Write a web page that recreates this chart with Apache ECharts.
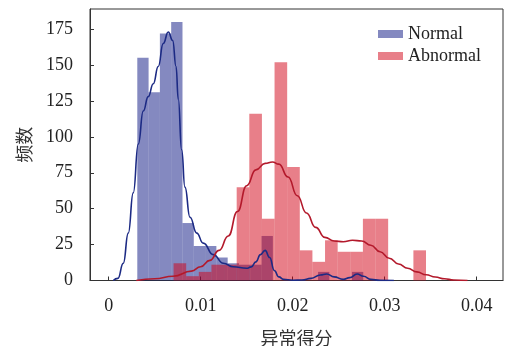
<!DOCTYPE html>
<html>
<head>
<meta charset="utf-8">
<script src="https://cdn.jsdelivr.net/npm/echarts@6/dist/echarts.min.js"></script>
<style>html,body{margin:0;padding:0;background:#fff;}#c{width:505px;height:346px;}</style>
</head>
<body>
<div id="c"></div>
<script>
// ---- data ----
const xTicks = [0, 0.01, 0.02, 0.03, 0.04];
const yTicks = [0, 25, 50, 75, 100, 125, 150, 175];

const normalBinStart = 0.00311;
const normalBinWidth = 0.001228;
const normalCounts = [155, 131, 172, 180, 40, 24, 24, 16, 12, 11, 11, 31, 0, 0, 0, 0, 6, 0, 0, 6];

const abnormalBinStart = 0.007053;
const abnormalBinWidth = 0.001372;
const abnormalCounts = [12, 3, 6, 11, 11, 65, 116, 43, 152, 79, 21, 13, 28, 20, 20, 43, 43, 0, 0, 21];

const normalKdeX = [0.0005, 0.0010, 0.00159, 0.00213, 0.00267, 0.00322, 0.00376, 0.00430, 0.00485, 0.00539, 0.00593, 0.00648, 0.00696, 0.00732, 0.00757, 0.00793, 0.00829, 0.00884, 0.00957, 0.01028, 0.01137, 0.01246, 0.01354, 0.0150, 0.0155, 0.0160, 0.0165, 0.0170, 0.0175, 0.0180, 0.0185, 0.0190, 0.0200, 0.0210, 0.0220, 0.0230, 0.0237, 0.0245, 0.0255, 0.0262, 0.0270, 0.0277, 0.0285, 0.0295, 0.0310];
const normalKdeY = [0, 1.5, 12, 33, 61, 95, 118, 128, 137, 149, 165, 173, 167, 149, 126, 91, 65, 44, 33, 26, 18, 12, 9.6, 8.5, 9.5, 13, 18, 21, 16, 7, 2.5, 0.8, 0.2, 0.3, 1.5, 3.8, 4.5, 2.5, 0.8, 2, 4.5, 3, 0.8, 0.1, 0];

const abnormalKdeX = [0.0030, 0.0050, 0.0070, 0.0090, 0.0100, 0.0110, 0.0120, 0.0130, 0.0140, 0.0150, 0.0160, 0.0170, 0.0178, 0.0185, 0.0195, 0.0205, 0.0215, 0.0225, 0.0235, 0.0245, 0.0255, 0.0265, 0.0275, 0.0285, 0.0295, 0.0305, 0.0315, 0.0325, 0.0335, 0.0345, 0.0355, 0.0365, 0.0375, 0.0390];
const abnormalKdeY = [0, 1.2, 3, 6.5, 9.6, 14, 21, 31, 48, 66, 77, 81.5, 82.5, 81, 72, 59, 47, 37, 30, 27.5, 27, 28, 27.5, 24.5, 20, 15.5, 11.5, 8.5, 6, 4, 2.4, 1.2, 0.4, 0];

// ---- build ----
function bins(start, width, counts) {
  return counts.map((c, i) => [start + i * width, start + (i + 1) * width, c]);
}
function pairs(xs, ys) { return xs.map((x, i) => [x, ys[i]]); }

const blueFill = 'rgba(10,20,130,0.5)';
const redFill = 'rgba(210,0,20,0.5)';
const blueLine = '#1c2a84';
const redLine = '#b3192b';

function renderBar(params, api) {
  const x0 = api.value(0), x1 = api.value(1), h = api.value(2);
  if (!h) return null;
  const p0 = api.coord([x0, h]);
  const p1 = api.coord([x1, 0]);
  return {
    type: 'rect',
    shape: { x: p0[0], y: p0[1], width: p1[0] - p0[0], height: p1[1] - p0[1] },
    style: api.style()
  };
}

const font = 'Liberation Serif';
const chart = echarts.init(document.getElementById('c'), null, { renderer: 'canvas' });
chart.setOption({
  animation: false,
  backgroundColor: '#fff',
  grid: { left: 90, right: 2, top: 9, bottom: 65.5, show: true, borderColor: '#333', borderWidth: 1,
    backgroundColor: 'transparent', containLabel: false, outerBoundsMode: 'none' },
  legend: {
    orient: 'vertical', left: 378, top: 25, padding: 0, itemWidth: 25, itemHeight: 8, itemGap: 4,
    textStyle: { fontFamily: font, fontSize: 18, color: '#222' },
    data: [
      { name: 'Normal', icon: 'rect', itemStyle: { color: blueFill } },
      { name: 'Abnormal', icon: 'rect', itemStyle: { color: redFill } }
    ]
  },
  xAxis: {
    type: 'value', min: -0.00203, max: 0.04286,
    name: '异常得分', nameLocation: 'middle', nameGap: 49,
    nameTextStyle: { fontFamily: 'Noto Sans CJK SC', fontSize: 18, color: '#333' },
    axisLine: { show: true, onZero: false, lineStyle: { color: '#333', width: 1 } },
    axisTick: { show: true, inside: true, length: 4, lineStyle: { color: '#333' }, customValues: xTicks },
    axisLabel: { fontFamily: font, fontSize: 18, color: '#222', margin: 17, customValues: xTicks,
      formatter: v => (v === 0 ? '0' : String(v)) },
    splitLine: { show: false }
  },
  yAxis: {
    type: 'value', min: 0, max: 189,
    name: '频数', nameLocation: 'middle', nameGap: 57, nameRotate: 90,
    nameTextStyle: { fontFamily: 'Noto Sans CJK SC', fontSize: 18, color: '#333' },
    axisLine: { show: true, onZero: false, lineStyle: { color: '#333', width: 1 } },
    axisTick: { show: true, inside: true, length: 4, lineStyle: { color: '#333' }, customValues: yTicks },
    axisLabel: { fontFamily: font, fontSize: 18, color: '#222', margin: 17, customValues: yTicks },
    splitLine: { show: false }
  },
  series: [
    { name: 'Normal', type: 'custom', renderItem: renderBar, itemStyle: { color: blueFill },
      encode: { x: [0, 1], y: 2 }, data: bins(normalBinStart, normalBinWidth, normalCounts) },
    { name: 'NormalKDE', type: 'line', data: pairs(normalKdeX, normalKdeY), smooth: 0.5, smoothMonotone: 'x',
      showSymbol: false, lineStyle: { color: blueLine, width: 1.6 }, itemStyle: { color: blueLine } },
    { name: 'Abnormal', type: 'custom', renderItem: renderBar, itemStyle: { color: redFill },
      encode: { x: [0, 1], y: 2 }, data: bins(abnormalBinStart, abnormalBinWidth, abnormalCounts) },
    { name: 'AbnormalKDE', type: 'line', data: pairs(abnormalKdeX, abnormalKdeY), smooth: 0.5, smoothMonotone: 'x',
      showSymbol: false, lineStyle: { color: redLine, width: 1.6 }, itemStyle: { color: redLine } }
  ]
});
</script>
</body>
</html>
